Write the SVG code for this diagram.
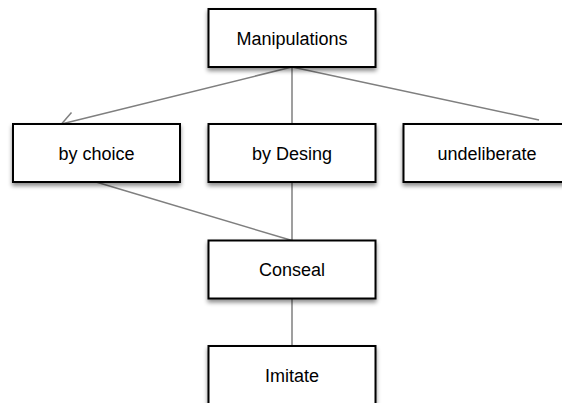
<svg xmlns="http://www.w3.org/2000/svg" width="562" height="403" viewBox="0 0 562 403">
<defs>
<filter id="sh" x="-10%" y="-10%" width="120%" height="140%">
<feDropShadow dx="0" dy="3" stdDeviation="2" flood-color="#000" flood-opacity="0.45"/>
</filter>
<style>
.box{fill:#fff;stroke:#000;stroke-width:2;filter:url(#sh)}
.lbl{font-family:"Liberation Sans",Arial,sans-serif;font-size:18px;fill:#000;text-anchor:middle}
.con{stroke:#7f7f7f;stroke-width:1.5;fill:none}
</style>
</defs>
<rect width="562" height="403" fill="#fff"/>
<g id="connectors">
<path class="con" d="M292,67 L61.5,124"/>
<path class="con" d="M61.5,124 L71.5,112.5"/>
<path class="con" d="M292,67 L292,124"/>
<path class="con" d="M292,67 L539,120"/>
<path class="con" d="M96,182 L292,240.5"/>
<path class="con" d="M292,182 L292,240.5"/>
<path class="con" d="M292,298.5 L292,346"/>
</g>
<g id="manipulations">
<rect class="box" x="208.5" y="9" width="167" height="58"/>
<text class="lbl" x="292" y="44.5">Manipulations</text>
</g>
<g id="by-choice">
<rect class="box" x="13" y="124" width="167" height="58"/>
<text class="lbl" x="96.5" y="159.5">by choice</text>
</g>
<g id="by-desing">
<rect class="box" x="208.5" y="124" width="167" height="58"/>
<text class="lbl" x="292" y="159.5">by Desing</text>
</g>
<g id="undeliberate">
<rect class="box" x="403.5" y="124" width="167" height="58"/>
<text class="lbl" x="487" y="159.5">undeliberate</text>
</g>
<g id="conseal">
<rect class="box" x="208.5" y="240.5" width="167" height="58"/>
<text class="lbl" x="292" y="276">Conseal</text>
</g>
<g id="imitate">
<rect class="box" x="208.5" y="346" width="167" height="58"/>
<text class="lbl" x="292" y="381.5">Imitate</text>
</g>
</svg>
